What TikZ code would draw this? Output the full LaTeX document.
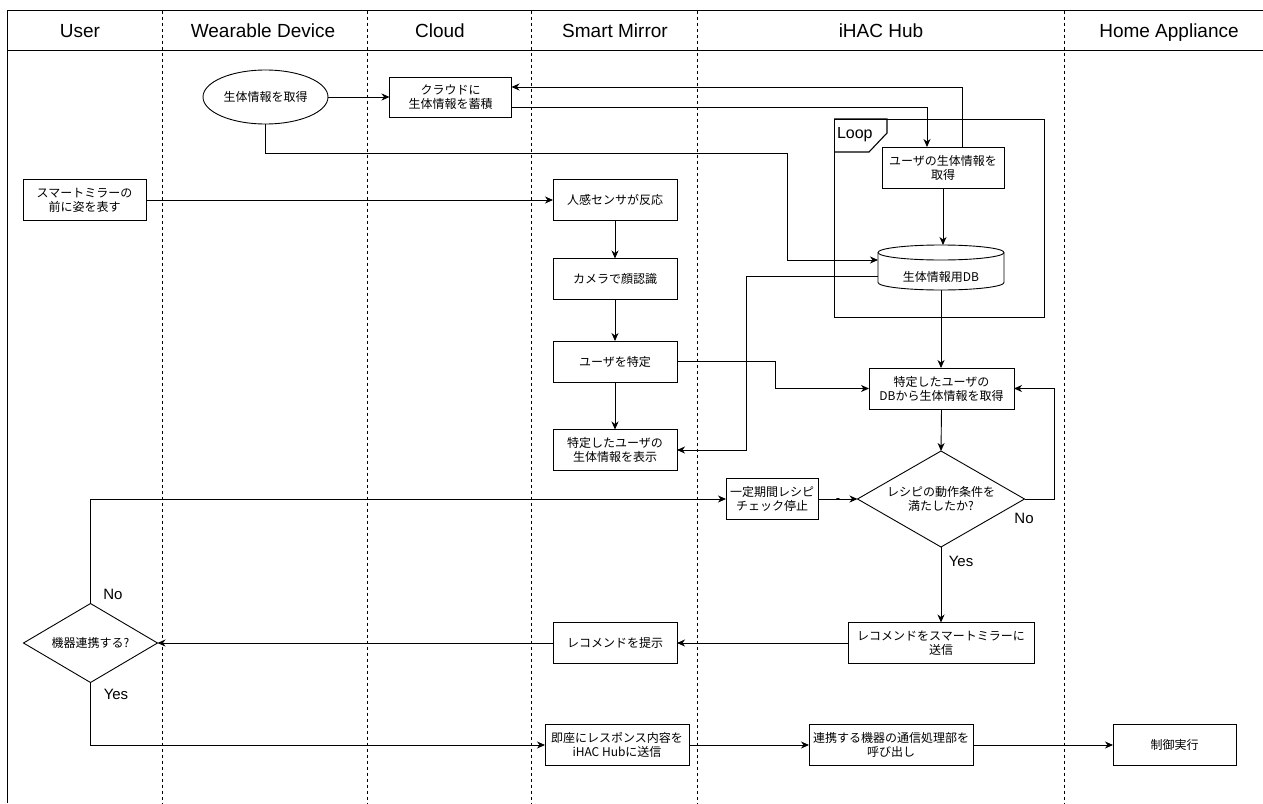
\documentclass[tikz,border=0pt]{standalone}
\usepackage{fontspec}
\setmainfont{Liberation Sans}
\newfontfamily\jp{Noto Sans CJK JP}
\usetikzlibrary{shapes.geometric,arrows.meta}
\begin{document}
\begin{tikzpicture}[x=1pt,y=-1pt,
  every node/.style={inner sep=0pt,outer sep=0pt},
  jpfont/.style={font=\jp\fontsize{12}{14}\selectfont},
  box/.style={draw,line width=0.9pt,fill=white,align=center,jpfont},
  dianode/.style={diamond,draw,line width=0.9pt,fill=white,align=center,jpfont},
  hdr/.style={font=\fontsize{19}{19}\selectfont,anchor=base},
  lbl/.style={font=\fontsize{15}{15}\selectfont,anchor=base},
  lane/.style={line width=0.7pt,dash pattern=on 3pt off 3pt},
  arr/.style={line width=0.9pt,-{Stealth[length=8pt,width=7pt,inset=2.5pt]}},
  ln/.style={line width=0.9pt}]
\useasboundingbox (0,0) rectangle (1263,803);
\fill[white] (0,0) rectangle (1263,803);
% frame and lanes
\draw[line width=1pt] (1263,10.5) -- (7,10.5) -- (7,803);
\draw[line width=1pt] (7,50) -- (1263,50);
\foreach \x in {162,367,531,697,1064} \draw[lane] (\x,10.5) -- (\x,803);
% headers
\node[hdr] (hUser) at (80,37) {User};
\node[hdr] (hWear) at (263,37) {Wearable Device};
\node[hdr] (hCloud) at (440,37) {Cloud};
\node[hdr] (hSM) at (615,37) {Smart Mirror};
\node[hdr] (hHub) at (881,37) {iHAC Hub};
\node[hdr] (hHA) at (1169,37) {Home Appliance};
% loop frame
\draw[ln] (834,119) rectangle (1044,317);
\draw[line width=1.1pt] (834,119) -- (887,119) -- (887,133) -- (869,152) -- (834,152);
\node[font=\fontsize{16}{16}\selectfont,anchor=base west] (looplbl) at (837,138) {Loop};
% nodes
\node[ellipse,draw,line width=0.9pt,fill=white,jpfont,minimum width=125pt,minimum height=54pt] (ell) at (265.5,97) {生体情報を取得};
\node[box,minimum width=122pt,minimum height=40pt] (cloud) at (450.5,97) {クラウドに\\生体情報を蓄積};
\node[box,minimum width=123pt,minimum height=41pt] (smr) at (84.5,200) {スマートミラーの\\前に姿を表す};
\node[box,minimum width=124pt,minimum height=41pt] (sensor) at (615,200) {人感センサが反応};
\node[box,minimum width=124pt,minimum height=41pt] (cam) at (615,279) {カメラで顔認識};
\node[box,minimum width=124pt,minimum height=41pt] (ident) at (615,361.5) {ユーザを特定};
\node[box,minimum width=124pt,minimum height=41pt] (disp) at (615,450) {特定したユーザの\\生体情報を表示};
\node[box,minimum width=122pt,minimum height=41pt] (getbio) at (943,167.5) {ユーザの生体情報を\\取得};
% database cylinder
\node[draw=none,minimum width=126pt,minimum height=45pt] (db) at (941,267.5) {};
\draw[line width=0.9pt,fill=white] (878,252.5) -- (878,282.5)
  arc[start angle=180,end angle=360,x radius=63pt,y radius=7.5pt] -- (1004,252.5)
  arc[start angle=0,end angle=180,x radius=63pt,y radius=7.5pt] -- cycle;
\draw[line width=0.9pt] (878,252.5) arc[start angle=180,end angle=360,x radius=63pt,y radius=7.5pt];
\node[jpfont] (dbtext) at (941,277) {生体情報用DB};
\node[box,minimum width=145pt,minimum height=41pt] (spec) at (941.5,388.5) {特定したユーザの\\DBから生体情報を取得};
\node[dianode,aspect=1.74,minimum width=167pt,minimum height=96pt] (dia) at (941,499) {レシピの動作条件を\\満たしたか?};
\node[box,minimum width=92pt,minimum height=41pt] (stop) at (772,499) {一定期間レシピ\\チェック停止};
\node[box,minimum width=186pt,minimum height=41pt] (rec2sm) at (941,643) {レコメンドをスマートミラーに\\送信};
\node[box,minimum width=124pt,minimum height=41pt] (recshow) at (615,643) {レコメンドを提示};
\node[dianode,aspect=1.72,minimum width=134pt,minimum height=79pt] (dia2) at (90.5,643) {機器連携する?};
\node[box,minimum width=144pt,minimum height=41pt] (imm) at (617,745) {即座にレスポンス内容を\\iHAC Hubに送信};
\node[box,minimum width=164pt,minimum height=41pt] (call) at (891,745) {連携する機器の通信処理部を\\呼び出し};
\node[box,minimum width=123pt,minimum height=41pt] (ctrl) at (1174.5,745) {制御実行};
% labels
\node[lbl] (noA) at (1024,523.5) {No};
\node[lbl] (yesA) at (961,566.5) {Yes};
\node[lbl] (noB) at (113,599.5) {No};
\node[lbl] (yesB) at (116,699.5) {Yes};
% connectors
\draw[arr] (ell.east) -- (cloud.west);
\draw[arr] ([yshift=-10pt]cloud.east) -| ([xshift=-16pt]getbio.north);
\draw[arr] ([xshift=19pt]getbio.north) |- ([yshift=10pt]cloud.east);
\draw[arr] (ell.south) |- (787,153) |- ([yshift=7.5pt]db.west);
\draw[arr] (getbio.south) -- (getbio.south |- db.north);
\draw[arr] (smr.east) -- (sensor.west);
\draw[arr] (sensor.south) -- (cam.north);
\draw[arr] (cam.south) -- (ident.north);
\draw[arr] (ident.south) -- (disp.north);
\draw[arr] ([yshift=-8.5pt]db.west) -| (746,400) |- (disp.east);
\draw[arr] (ident.east) -| (775,380) |- (spec.west);
\draw[arr] (db.south) -- (db.south |- spec.north);
\draw[arr] (spec.south) -- (dia.north);
\draw[arr] (dia.east) -- (1054,499) |- (spec.east);
\draw[arr] (stop.east) -- (dia.west);
\node[font=\fontsize{13}{13}\selectfont,anchor=base] (dashlbl) at (838,502.5) {-};
\draw[arr] (dia.south) -- (rec2sm.north);
\draw[arr] (rec2sm.west) -- (recshow.east);
\draw[arr] (recshow.west) -- (dia2.east);
\draw[arr] (dia2.north) |- (stop.west);
\draw[arr] (dia2.south) |- (imm.west);
\draw[arr] (imm.east) -- (call.west);
\draw[arr] (call.east) -- (ctrl.west);
\end{tikzpicture}
\end{document}
